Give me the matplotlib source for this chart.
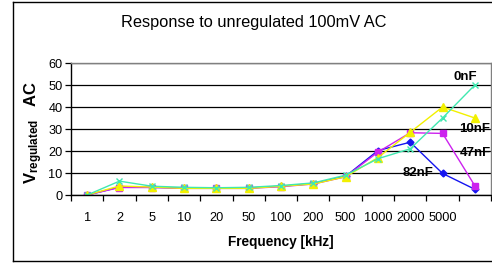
import matplotlib
matplotlib.use("Agg")
import matplotlib.pyplot as plt
from matplotlib.lines import Line2D

plt.rcParams['font.family'] = ['Liberation Sans', 'DejaVu Sans']
plt.rcParams['mathtext.fontset'] = 'custom'
plt.rcParams['mathtext.rm'] = 'Liberation Sans'
plt.rcParams['mathtext.bf'] = 'Liberation Sans:bold'

categories = ['1', '2', '5', '10', '20', '50', '100', '200', '500', '1000', '2000', '5000', '']

c0nF = [0, 6.3, 4.0, 3.5, 3.3, 3.5, 4.3, 5.5, 9.0, 16.5, 21, 35, 50]
c10nF = [0, 4.1, 3.6, 3.0, 3.0, 3.0, 4.0, 5.0, 8.3, 17, 28.5, 40, 35]
c47nF = [0, 3.4, 3.4, 3.0, 3.0, 3.0, 3.8, 5.0, 8.3, 19.5, 28.3, 28, 4.2]
c82nF = [0, 3.6, 3.5, 3.2, 3.1, 3.2, 4.0, 5.2, 8.5, 20.2, 24, 9.8, 2.6]

series_labels = ['0nF', '10nF', '47nF', '82nF']

W, H = 492, 263
fig = plt.figure(figsize=(W / 100, H / 100), dpi=100)

# outer chart frame (right edge falls off the picture)
for xs, ys in [([13 / W, 13 / W], [2 / H, 1 - 1.5 / H]),
               ([13 / W, 1.1], [1 - 1.5 / H, 1 - 1.5 / H]),
               ([13 / W, 1.1], [2 / H, 2 / H])]:
    fig.add_artist(Line2D(xs, ys, color='black', lw=1.0, transform=fig.transFigure))

ax = fig.add_axes([71 / W, 1 - 195 / H, 420 / W, 132 / H])
x = range(len(categories))

ax.plot(x, c82nF, color='#1515F0', marker='D', ms=3.5, lw=1)
ax.plot(x, c47nF, color='#CC22EE', marker='s', ms=5, lw=1)
ax.plot(x, c10nF, color='#F2F000', marker='^', ms=5.5, lw=1)
ax.plot(x, c0nF, color='#40E8B0', marker='x', ms=4.5, mew=1, lw=1)

ax.set_xlim(-0.5, len(categories) - 0.5)
ax.set_ylim(0, 60)
ax.set_yticks(range(0, 61, 10))
ax.grid(axis='y', color='black', lw=0.9)
ax.set_axisbelow(True)

ax.set_xticks(list(x))
ax.set_xticklabels(categories, fontsize=9.2)
ax.set_xticks([i - 0.5 for i in range(len(categories) + 1)], minor=True)
ax.tick_params(axis='x', which='major', length=0, pad=12)
ax.tick_params(axis='x', which='minor', length=4, direction='out', width=0.9)
ax.tick_params(axis='y', length=4, direction='out', width=0.9, labelsize=9.2, pad=2)

for s in ['left', 'bottom']:
    ax.spines[s].set_color('black')
    ax.spines[s].set_linewidth(1)
for s in ['top', 'right']:
    ax.spines[s].set_color('#808080')
    ax.spines[s].set_linewidth(1)

ax.set_xlabel('Frequency [kHz]', fontsize=9.8, fontweight='bold', labelpad=8)
fig.text(34 / W, 1 - 132 / H, r'$\mathbf{V_{regulated}}$   AC', rotation=90,
         fontsize=12, fontweight='bold', ha='center', va='center')

fig.text(254 / W, 1 - 22 / H, 'Response to unregulated 100mV AC', fontsize=11.8,
         ha='center', va='center')

label_pos = [(465, 77), (475, 129), (475, 153), (418, 173)]
for lab, (px, py) in zip(series_labels, label_pos):
    fig.text(px / W, 1 - py / H, lab, fontsize=9.5, fontweight='bold',
             ha='center', va='center')

fig.savefig('out.png', dpi=100)
